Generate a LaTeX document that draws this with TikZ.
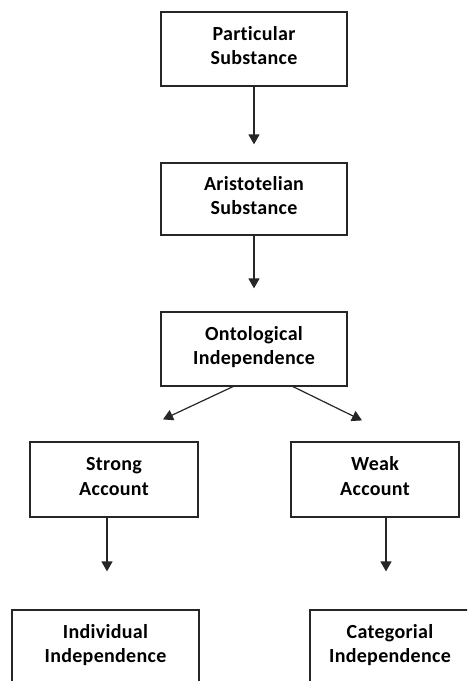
\documentclass[tikz,border=0pt]{standalone}
\usepackage{fontspec}
\setmainfont{Carlito}[Ligatures=NoCommon,LetterSpace=1.5]
\usetikzlibrary{arrows.meta,calc}
% two centred lines, set a little above the middle of their box
\newcommand\twoline[2]{\raisebox{1.5pt}[\height][\depth]{\begin{tabular}{@{}c@{}}#1\\#2\end{tabular}}}
\begin{document}
\begin{tikzpicture}[x=1pt,y=-1pt,
  box/.style={draw=black!85, line width=1.2pt, inner sep=0pt,
    font=\fontsize{20}{24.5}\selectfont\bfseries},
  link/.style={draw=black!85, line width=1.2pt,
    -{Triangle[width=11pt,length=10pt]}}]
\useasboundingbox (0,0) rectangle (467,681);
\clip (0,0) rectangle (467,681);

% chain of concepts
\node[box, minimum width=186pt, minimum height=74pt] (ps) at (254,49) {\twoline{Particular}{Substance}};
\node[box, minimum width=186pt, minimum height=72pt] (as) at (254,199) {\twoline{Aristotelian}{Substance}};
\node[box, minimum width=186pt, minimum height=74pt] (oi) at (254,349) {\twoline{Ontological}{Independence}};
\node[box, minimum width=168pt, minimum height=75pt] (sa) at (114,479.5) {\twoline{Strong}{Account}};
\node[box, minimum width=168pt, minimum height=75pt] (wa) at (375,479.5) {\twoline{Weak}{Account}};
\node[box, minimum width=187pt, minimum height=74pt] (ii) at (105.5,647) {\twoline{Individual}{Independence}};
\node[box, minimum width=160pt, minimum height=74pt] (ci) at (390,647) {\twoline{Categorial}{Independence}};

% vertical links
\draw[link, shorten >=18pt] (ps.south) -- (as.north);
\draw[link, shorten >=23pt] (as.south) -- (oi.north);

% branching links
\coordinate (oiL) at ($(oi.south)+(-21,0)$);
\coordinate (oiR) at ($(oi.south)+(39,0)$);
\coordinate (saT) at ($(sa.north)+(49,-22)$);
\coordinate (waT) at ($(wa.north)+(-13,-21)$);
\draw[link] (oiL) -- (saT);
\draw[link] (oiR) -- (waT);

% lower links
\coordinate (saB) at ($(sa.south)+(-7,0)$);
\coordinate (waB) at ($(wa.south)+(11,0)$);
\draw[link, shorten >=38pt] (saB) -- (saB |- ii.north);
\draw[link, shorten >=38pt] (waB) -- (waB |- ci.north);
\end{tikzpicture}
\end{document}
